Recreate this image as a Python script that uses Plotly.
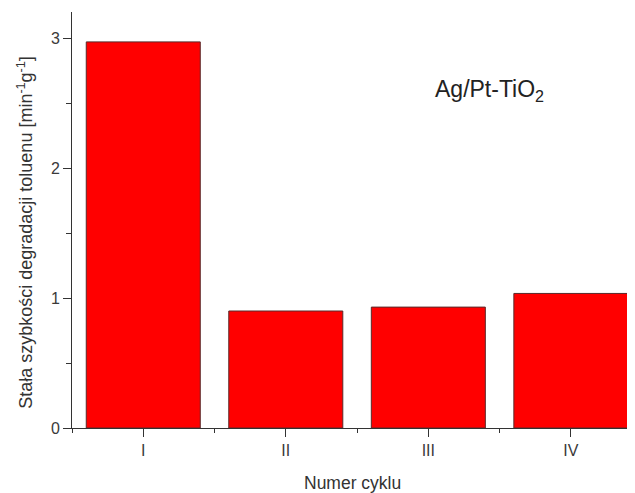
import plotly.graph_objects as go

categories = ["I", "II", "III", "IV"]
rate_constants = [2.97, 0.90, 0.93, 1.035]
positions = list(range(1, len(categories) + 1))

y_title = "Stała szybkości degradacji toluenu [min<sup>-1</sup>g<sup>-1</sup>]"
x_title = "Numer cyklu"
sample_label = "Ag/Pt-TiO<sub>2</sub>"

FONT = "Liberation Sans, Arial, sans-serif"

fig = go.Figure()
fig.add_trace(go.Bar(
    x=positions, y=rate_constants, width=0.8,
    marker=dict(color="#FF0000", line=dict(color="#5a2a2a", width=1)),
    showlegend=False,
))

# page body has an 8px default margin, so the figure is sized 8px smaller
fig.update_layout(
    width=627, height=485,
    margin=dict(l=64, r=0, t=4, b=65),
    paper_bgcolor="white", plot_bgcolor="white",
    font=dict(family=FONT, color="#333333", size=14),
    bargap=0.2,
)

fig.update_xaxes(
    range=[0.5, 4.45],
    tickmode="array", tickvals=positions, ticktext=categories,
    showline=True, linecolor="#333333", linewidth=1,
    ticks="outside", ticklen=8, tickcolor="#333333",
    showgrid=False, zeroline=False,
    tickfont=dict(size=16, color="#3a3a3a"),
    minor=dict(tickvals=[0.5, 1.5, 2.5, 3.5], ticks="outside", ticklen=4, tickcolor="#333333", showgrid=False),
)
fig.update_yaxes(
    range=[0, 3.2],
    tickmode="linear", tick0=0, dtick=1,
    showline=True, linecolor="#333333", linewidth=1,
    ticks="outside", ticklen=8, tickcolor="#333333",
    showgrid=False, zeroline=False,
    tickfont=dict(size=16, color="#3a3a3a"),
    minor=dict(tick0=0.5, dtick=1, ticks="outside", ticklen=5, tickcolor="#333333", showgrid=False),
)

fig.add_annotation(
    text=y_title, textangle=-90, xref="paper", yref="paper",
    x=-0.084, y=0.471, xanchor="center", yanchor="middle",
    showarrow=False, font=dict(size=18, color="#333333", family=FONT),
)
fig.add_annotation(
    text=x_title, xref="paper", yref="paper",
    x=0.4987, y=-0.132, xanchor="center", yanchor="middle",
    showarrow=False, font=dict(size=17.5, color="#333333", family=FONT),
)
fig.add_annotation(
    text=sample_label, xref="paper", yref="paper",
    x=0.642, y=0.812, xanchor="left", yanchor="middle",
    showarrow=False, font=dict(size=23, color="#222222", family=FONT),
)

fig.write_html("out.html")
